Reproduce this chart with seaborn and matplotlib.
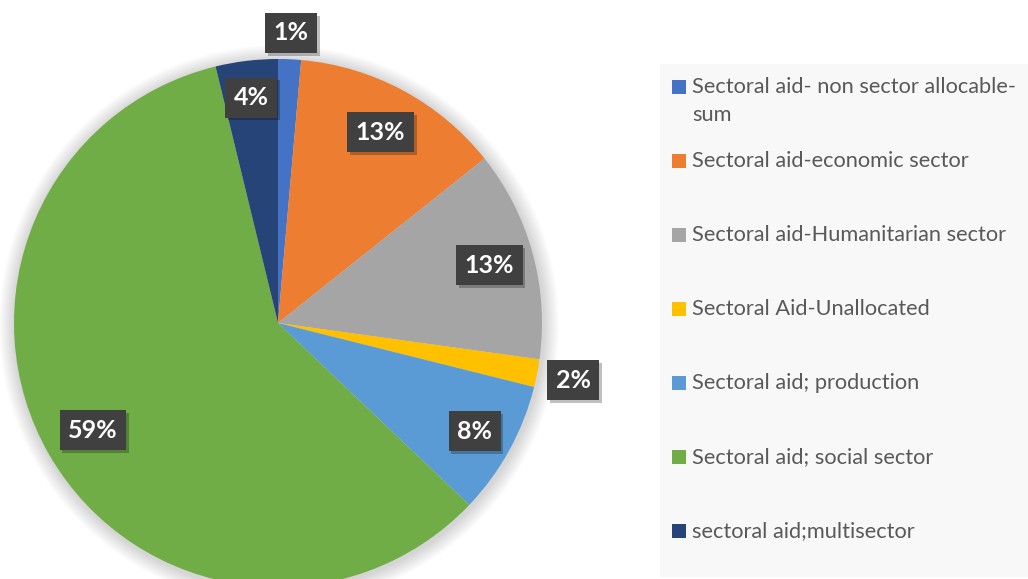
import matplotlib
matplotlib.use("Agg")
import matplotlib.pyplot as plt
from matplotlib.patches import Circle, Rectangle
import matplotlib.patheffects as pe
import numpy as np
import seaborn as sns

# Sector shares of aid (percent), clockwise from 12 o'clock
categories = [
    "Sectoral aid- non sector allocable-\nsum",
    "Sectoral aid-economic sector",
    "Sectoral aid-Humanitarian sector",
    "Sectoral Aid-Unallocated",
    "Sectoral aid; production",
    "Sectoral aid; social sector",
    "sectoral aid;multisector",
]
shares = [1.4, 12.9, 12.9, 1.7, 8.2, 59.1, 3.8]
slice_colors = ["#4472C4", "#ED7D31", "#A5A5A5", "#FFC000", "#5B9BD5", "#70AD47", "#264478"]

# radial position of each percentage label, as a fraction of the radius
label_dist = [1.10, 0.82, 0.83, 1.14, 0.85, 0.81, 0.86]

sns.set_theme(style="white")
plt.rcParams["font.family"] = ["Lato", "DejaVu Sans"]
palette = sns.color_palette(slice_colors)

W, H = 1028, 579
fig = plt.figure(figsize=(W / 100, H / 100), dpi=100)
fig.patch.set_facecolor("white")
ax = fig.add_axes([0, 0, 1, 1])

cx, cy, R = 278, H - 323, 264

# soft glow around the pie
for i in range(14):
    ax.add_patch(Circle((cx + 1, cy - 2), R + 16 - i * 1.1, color="black",
                        alpha=0.012, lw=0, zorder=0))

wedges, _ = ax.pie(shares, colors=palette, startangle=90, counterclock=False,
                   center=(cx, cy), radius=R,
                   wedgeprops=dict(linewidth=0, zorder=1))

ax.set_xlim(0, W)
ax.set_ylim(0, H)
ax.set_aspect("equal")
ax.axis("off")

# percentage labels on dark boxes
total = sum(shares)
cum = 0.0
for v, d in zip(shares, label_dist):
    mid = 90 - 360 * (cum + v / 2) / total
    cum += v
    x = cx + d * R * np.cos(np.radians(mid))
    y = cy + d * R * np.sin(np.radians(mid))
    t = ax.text(x, y, f"{v:.0f}%", ha="center", va="center", color="white",
                fontsize=18, fontweight="bold", zorder=5,
                bbox=dict(boxstyle="square,pad=0.34", fc="#404040", ec="none"))
    t.get_bbox_patch().set_path_effects([
        pe.SimplePatchShadow(offset=(2, -2), shadow_rgbFace="black", alpha=0.25),
        pe.Normal()])

# legend panel
ax.add_patch(Rectangle((660, H - 577), 400, 577 - 64, fc="#F8F8F8", ec="none",
                       zorder=2, clip_on=False))
for i, (lab, col) in enumerate(zip(categories, palette)):
    yc = H - (87 + 74 * i)
    ax.add_patch(Rectangle((672, yc - 7), 14, 14, fc=col, ec="none", zorder=3))
    for j, ln in enumerate(lab.split("\n")):
        ax.text(692, yc - 28 * j, ln, ha="left", va="center",
                fontsize=15.7, color="#595959", zorder=3)

fig.savefig("out.png", dpi=100, facecolor="white")
